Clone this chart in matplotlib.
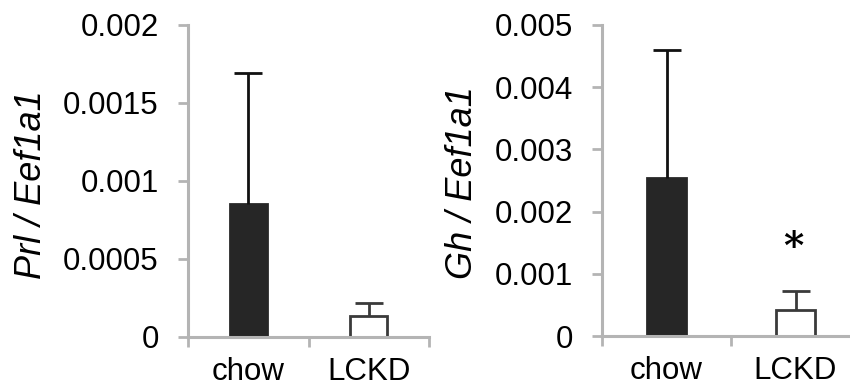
import matplotlib
matplotlib.use("Agg")
from matplotlib import pyplot as plt

groups = ["chow", "LCKD"]

prl_mean = [0.000853, 0.000135]
prl_err = [0.000841, 0.000085]

gh_mean = [0.002535, 0.000418]
gh_err = [0.002065, 0.00031]

plt.rcParams["font.family"] = ["Liberation Sans", "DejaVu Sans"]

axis_grey = "#b4b4b4"
fills = ["#262626", "white"]
edges = ["#262626", "#3a3a3a"]
err_colors = ["#111111", "#3a3a3a"]

fig = plt.figure(figsize=(8.5, 3.89), dpi=100)
ax1 = fig.add_axes([188 / 850, 1 - 337 / 389, 241 / 850, 312 / 389])
ax2 = fig.add_axes([602 / 850, 1 - 336 / 389, 258 / 850, 311 / 389])


def draw(ax, means, errs, ymax, yticks, yticklabels):
    x = range(len(groups))
    for i in x:
        ax.bar(i, means[i], width=0.31, color=fills[i], edgecolor=edges[i],
               linewidth=2, zorder=2)
        eb = ax.errorbar(i, means[i], yerr=[[0], [errs[i]]], fmt="none",
                         ecolor=err_colors[i], elinewidth=2, capsize=10,
                         capthick=2, zorder=3)
        # only the upper cap is shown
        eb[1][0].set_visible(False)
    ax.set_xlim(-0.5, 1.5)
    ax.set_ylim(0, ymax)
    ax.set_yticks(yticks)
    ax.set_yticklabels(yticklabels, fontsize=22.5)
    ax.set_xticks([0, 1])
    ax.set_xticklabels(groups, fontsize=22.5)
    ax.tick_params(axis="x", which="major", length=0, pad=14.5)
    ax.set_xticks([-0.5, 0.5, 1.5], minor=True)
    ax.tick_params(axis="x", which="minor", length=7, width=2,
                   color=axis_grey, direction="out")
    ax.tick_params(axis="y", length=7, width=2, color=axis_grey,
                   direction="out", pad=14)
    for s in ["top", "right"]:
        ax.spines[s].set_visible(False)
    for s in ["left", "bottom"]:
        ax.spines[s].set_color(axis_grey)
        ax.spines[s].set_linewidth(2.2)
    ax.patch.set_alpha(0)


draw(ax1, prl_mean, prl_err, 0.002,
     [0, 0.0005, 0.001, 0.0015, 0.002],
     ["0", "0.0005", "0.001", "0.0015", "0.002"])
draw(ax2, gh_mean, gh_err, 0.005,
     [0, 0.001, 0.002, 0.003, 0.004, 0.005],
     ["0", "0.001", "0.002", "0.003", "0.004", "0.005"])

fig.text(32 / 850, 1 - 185 / 389, "Prl / Eef1a1", rotation=90, style="italic",
         fontsize=26, ha="center", va="center")
fig.text(463 / 850, 1 - 183 / 389, "Gh / Eef1a1", rotation=90, style="italic",
         fontsize=26, ha="center", va="center")

ax2.text(0.98, 0.00142, "*", ha="center", va="center", fontsize=28,
         family="DejaVu Serif", weight="bold")

fig.savefig("out.png", dpi=100)
